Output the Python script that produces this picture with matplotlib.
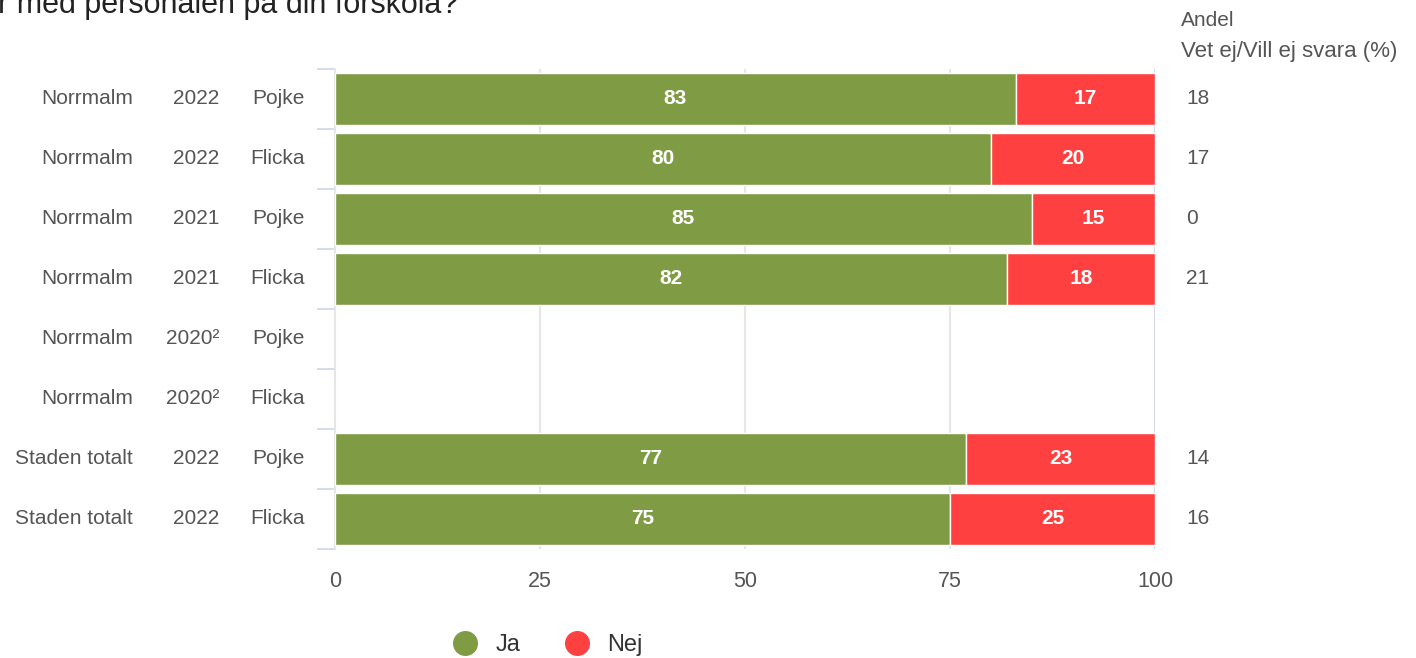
import numpy as np
import matplotlib.pyplot as plt
from matplotlib.lines import Line2D
from matplotlib.transforms import blended_transform_factory

plt.rcParams['font.family'] = ['Liberation Sans', 'DejaVu Sans']

# Data
omraden = ['Norrmalm', 'Norrmalm', 'Norrmalm', 'Norrmalm', 'Norrmalm', 'Norrmalm',
           'Staden totalt', 'Staden totalt']
ar = ['2022', '2022', '2021', '2021', '2020²', '2020²', '2022', '2022']
kon = ['Pojke', 'Flicka', 'Pojke', 'Flicka', 'Pojke', 'Flicka', 'Pojke', 'Flicka']
ja = [83, 80, 85, 82, np.nan, np.nan, 77, 75]
nej = [17, 20, 15, 18, np.nan, np.nan, 23, 25]
vet_ej = ['18', '17', '0', '21', '', '', '14', '16']
x_ticks = [0, 25, 50, 75, 100]

GREEN = '#7f9c45'
RED = '#ff4040'
TXT = '#555555'
FS = 15

W, H = 1416, 658
fig = plt.figure(figsize=(W / 100, H / 100), dpi=100)
ax = fig.add_axes([335 / W, 1 - 549 / H, 820 / W, 480 / H])

y = np.arange(len(ja))
ja_arr = np.array(ja, dtype=float)
nej_arr = np.array(nej, dtype=float)
ax.barh(y, ja_arr, height=0.88, color=GREEN, edgecolor='white', linewidth=1, zorder=3)
ax.barh(y, nej_arr, left=ja_arr, height=0.88, color=RED, edgecolor='white', linewidth=1, zorder=3)

for i in range(len(y)):
    if not np.isnan(ja_arr[i]):
        ax.text(ja_arr[i] / 2, i, f'{int(ja_arr[i])}', ha='center', va='center',
                color='white', fontsize=15, fontweight='bold', zorder=4)
        ax.text(ja_arr[i] + nej_arr[i] / 2, i, f'{int(nej_arr[i])}', ha='center', va='center',
                color='white', fontsize=15, fontweight='bold', zorder=4)

ax.set_xlim(0, 100)
ax.set_ylim(len(y) - 0.5, -0.5)
ax.set_xticks(x_ticks)
ax.set_xticklabels([str(t) for t in x_ticks])
ax.tick_params(axis='x', length=0, pad=16, labelsize=15.5, labelcolor=TXT)
ax.set_yticks([])
ax.set_yticks(np.arange(-0.5, len(y)), minor=True)
ax.tick_params(axis='y', which='minor', length=13, width=1.2, color='#ccd6eb')

for s in ['top', 'bottom', 'right']:
    ax.spines[s].set_visible(False)
ax.spines['left'].set_color('#e6e6e6')
ax.spines['left'].set_linewidth(1.5)

for t in [25, 50, 75]:
    ax.axvline(t, color='#e6e6e6', linewidth=1.5, zorder=1)
ax.axvline(100, color='#ccd6eb', linewidth=2, zorder=1)

# Category labels on the left
tr = blended_transform_factory(fig.transFigure, ax.transData)
for i in range(len(y)):
    ax.text(133 / W, i, omraden[i], transform=tr, ha='right', va='center', fontsize=FS, color=TXT)
    ax.text(219 / W, i, ar[i], transform=tr, ha='right', va='center', fontsize=FS, color=TXT)
    ax.text(305 / W, i, kon[i], transform=tr, ha='right', va='center', fontsize=FS, color=TXT)
    if vet_ej[i]:
        ax.text(1186 / W, i, vet_ej[i], transform=tr, ha='left', va='center', fontsize=FS, color=TXT)

fig.text(1181 / W, 1 - 20 / H, 'Andel', ha='left', va='center', fontsize=FS, color=TXT)
fig.text(1181 / W, 1 - 52 / H, 'Vet ej/Vill ej svara (%)', ha='left', va='center',
         fontsize=16, color=TXT)

# cut-off title
fig.text(-2 / W, 1 - 13 / H, 'r med personalen på din förskola?', ha='left', va='baseline',
         fontsize=22, color='#222222')

handles = [Line2D([], [], marker='o', linestyle='', markersize=17, color=GREEN, label='Ja'),
           Line2D([], [], marker='o', linestyle='', markersize=17, color=RED, label='Nej')]
fig.legend(handles=handles, loc='center', bbox_to_anchor=(542 / W, 1 - 645 / H), ncol=2,
           frameon=False, fontsize=17, labelcolor='#333333', handletextpad=0.3,
           columnspacing=1.4)

fig.savefig('out.png', dpi=100, facecolor='white')
